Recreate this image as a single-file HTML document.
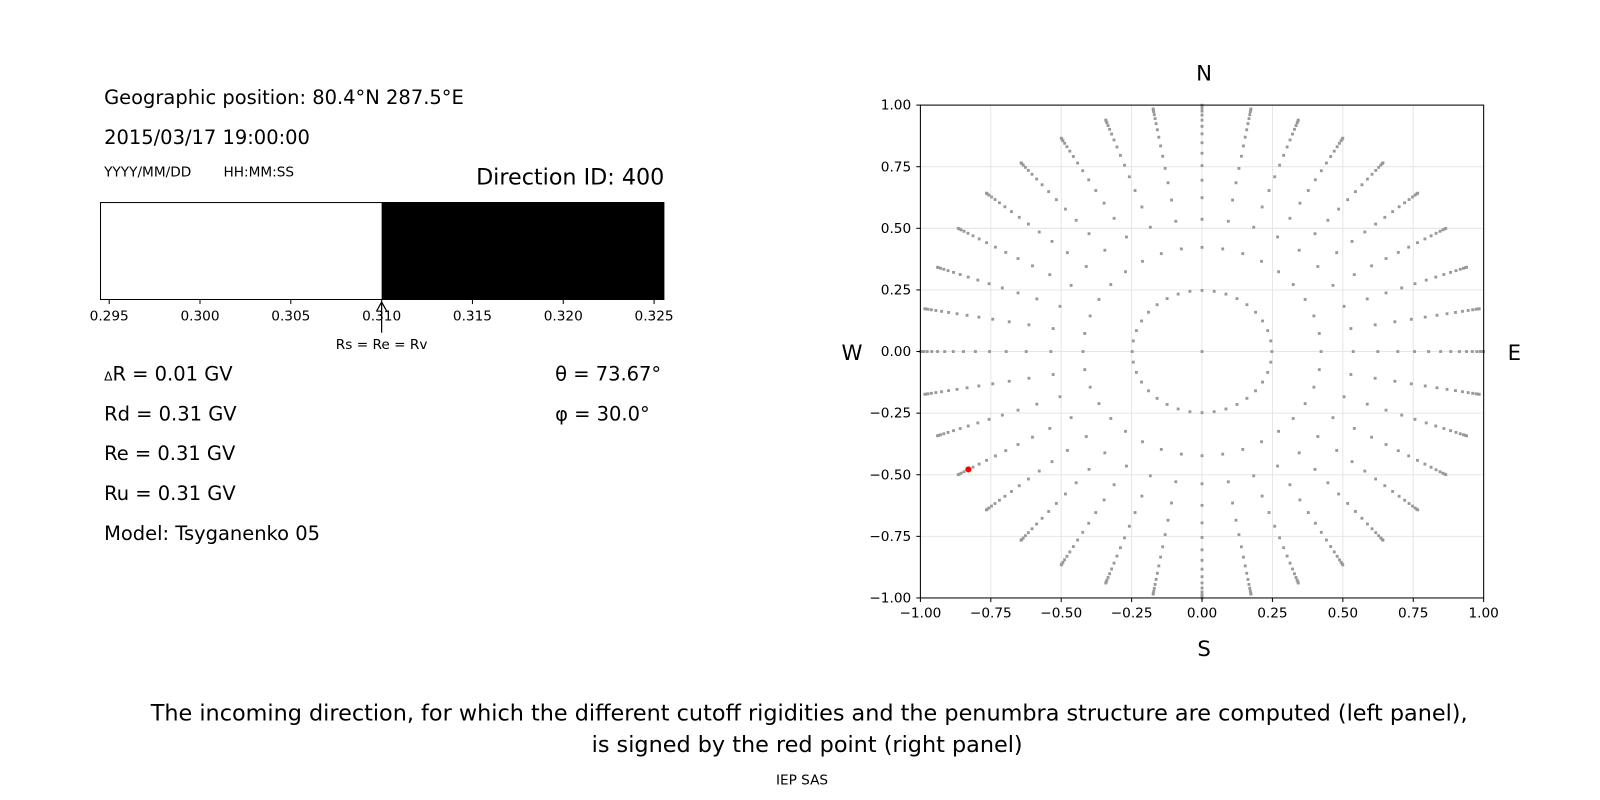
<!DOCTYPE html>
<html><head><meta charset="utf-8"><style>
body{margin:0;background:#fff;}
svg{display:block;font-family:"DejaVu Sans","Liberation Sans",sans-serif;}
</style></head><body>
<svg width="1600" height="800" xmlns="http://www.w3.org/2000/svg">
<rect width="1600" height="800" fill="#fff"/>
<g transform="scale(1.0204)">
<text x="102" y="102" font-size="19.1">Geographic position: 80.4°N 287.5°E</text>
<text x="102" y="141" font-size="19.1">2015/03/17 19:00:00</text>
<text x="102" y="173" font-size="13.4">YYYY/MM/DD</text>
<text x="219" y="173" font-size="13.4">HH:MM:SS</text>
<text x="651" y="181" font-size="21.8" text-anchor="end">Direction ID: 400</text>
<rect x="374" y="198" width="277" height="96" fill="#000"/>
<rect x="98.5" y="198.5" width="552" height="95" fill="none" stroke="#000" stroke-width="1"/>
<g font-size="13.4" text-anchor="middle" id="lt"></g>
<line x1="374" y1="326" x2="374" y2="297" stroke="#000" stroke-width="1.2"/>
<path d="M369,305 L374,296 L379,305" fill="none" stroke="#000" stroke-width="1.2"/>
<text x="374" y="342" font-size="13.4" text-anchor="middle">Rs = Re = Rv</text>
<g font-size="19.1">
<text x="102" y="373"><tspan font-size="12">Δ</tspan>R = 0.01 GV</text>
<text x="102" y="412">Rd = 0.31 GV</text>
<text x="102" y="451">Re = 0.31 GV</text>
<text x="102" y="490">Ru = 0.31 GV</text>
<text x="102" y="529">Model: Tsyganenko 05</text>
<text x="544" y="373">θ = 73.67°</text>
<text x="544" y="412">φ = 30.0°</text>
</g>
<g id="grid"></g>
<g id="dots" fill="#999"></g>
<rect x="902" y="103" width="552" height="483" fill="none" stroke="#000" stroke-width="1"/>
<g id="rt" font-size="13.4"></g>
<circle cx="949" cy="460" r="3" fill="red"/>
<g font-size="20.8" text-anchor="middle">
<text x="1180" y="79">N</text>
<text x="1180" y="643">S</text>
<text x="835" y="353">W</text>
<text x="1484" y="353">E</text>
</g>
<g font-size="21.9" text-anchor="middle">
<text x="793" y="706">The incoming direction, for which the different cutoff rigidities and the penumbra structure are computed (left panel),</text>
<text x="791" y="737">is signed by the red point (right panel)</text>
</g>
<text x="786" y="769" font-size="13.4" text-anchor="middle">IEP SAS</text>
</g>
</svg>
<script>
var NS="http://www.w3.org/2000/svg";
function el(p,t,a,txt){var e=document.createElementNS(NS,t);for(var k in a)e.setAttribute(k,a[k]);if(txt)e.textContent=txt;document.getElementById(p).appendChild(e);}
var lv=["0.295","0.300","0.305","0.310","0.315","0.320","0.325"];
for(var i=0;i<7;i++){var x=107+89*i;el("lt","line",{x1:x,y1:294,x2:x,y2:298,stroke:"#000"});el("lt","text",{x:x,y:314},lv[i]);}
var cx=1178,cy=344.5,sx=276,sy=241.5;
var tv=["−1.00","−0.75","−0.50","−0.25","0.00","0.25","0.50","0.75","1.00"];
for(var i=0;i<9;i++){var v=-1+0.25*i;var x=cx+v*sx,y=cy-v*sy;
el("grid","line",{x1:x,y1:103,x2:x,y2:586,stroke:"#e6e6e6"});
el("grid","line",{x1:902,y1:y,x2:1454,y2:y,stroke:"#e6e6e6"});
el("rt","line",{x1:x,y1:586,x2:x,y2:590,stroke:"#000"});
el("rt","text",{x:x,y:605,"text-anchor":"middle"},tv[i]);
el("rt","line",{x1:898,y1:y,x2:902,y2:y,stroke:"#000"});
el("rt","text",{x:893,y:y+4.5,"text-anchor":"end"},tv[i]);}
el("dots","rect",{x:cx-1.4,y:cy-1.4,width:2.8,height:2.8});
for(var a=0;a<36;a++){var t=a*Math.PI/18;
for(var k=0;k<16;k++){var c=1-(k+0.5)*0.0625;var r=Math.sqrt(1-c*c);
var x=cx+r*Math.cos(t)*sx,y=cy-r*Math.sin(t)*sy;
el("dots","rect",{x:x-1.4,y:y-1.4,width:2.8,height:2.8});}}
</script>
</body></html>
